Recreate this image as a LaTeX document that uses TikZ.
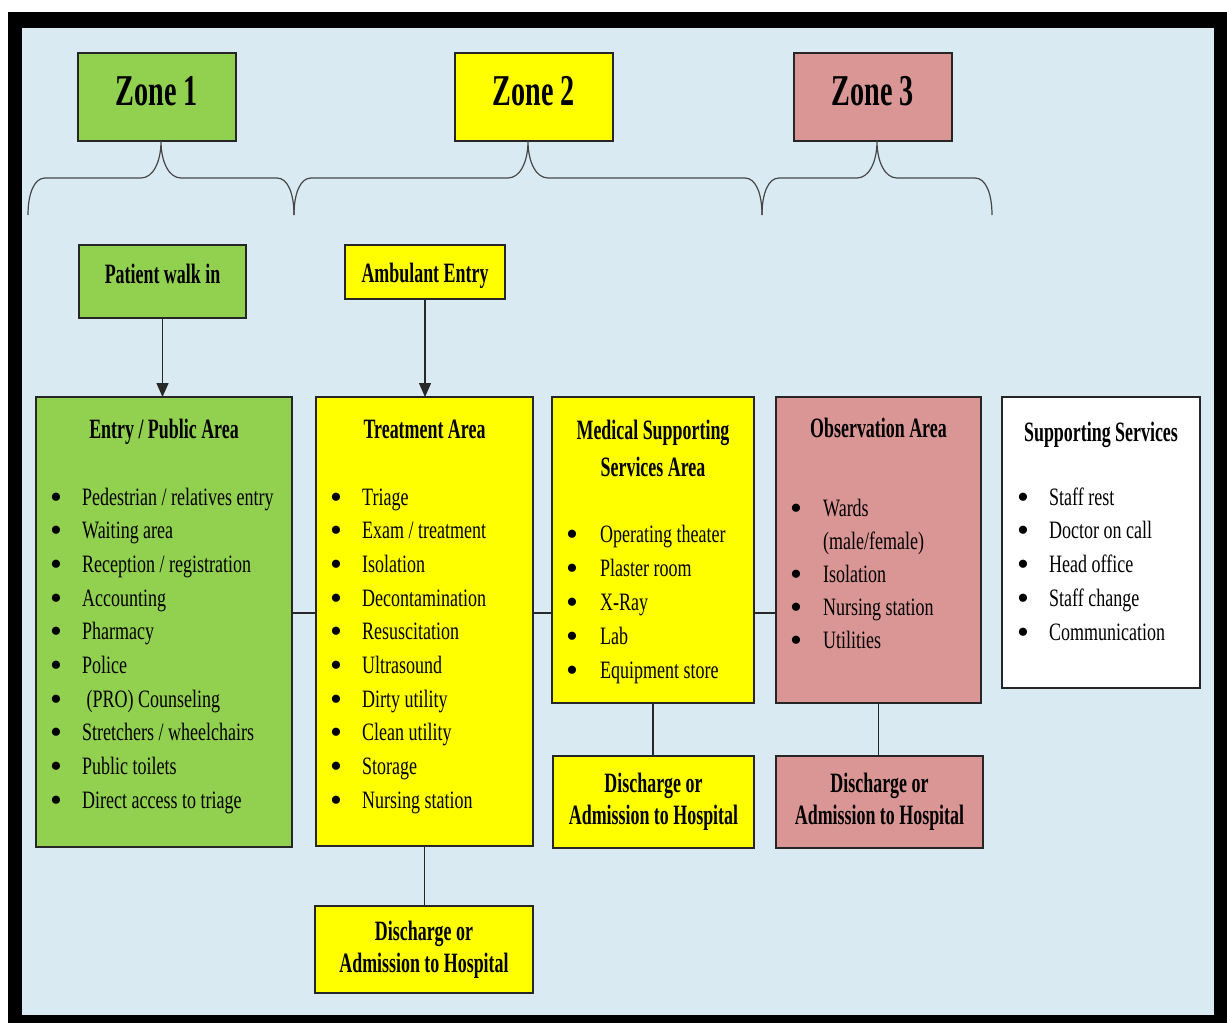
\documentclass[tikz,border=0pt]{standalone}
\usepackage{fontspec}
\newfontfamily\bodyfont{Liberation Serif}[FakeStretch=0.72]
\newfontfamily\headfont{Liberation Serif}[FakeStretch=0.64]
\newfontfamily\dotfont{Liberation Serif}
\newcommand\bul{\raisebox{-3pt}{\dotfont\fontsize{34}{34}\selectfont\textbullet}}
\usetikzlibrary{arrows.meta, positioning, calc}

\begin{document}
\begin{tikzpicture}[x=1pt, y=-1pt,
    box/.style={draw=boxline, line width=1.6pt, inner sep=0pt, outer sep=0pt, anchor=north west},
    zonebox/.style={box, minimum width=158pt, minimum height=88pt, text height=30pt, text depth=14pt,
        font=\headfont\bfseries\fontsize{44}{50}\selectfont},
    entrybox/.style={box, font=\headfont\bfseries\fontsize{28}{32}\selectfont, text height=20pt},
    disbox/.style={box, align=center, font=\headfont\bfseries\fontsize{28}{32}\selectfont},
    head/.style={inner sep=0pt, anchor=base, font=\headfont\bfseries\fontsize{28}{37}\selectfont},
    item/.style={inner sep=0pt, anchor=base west, font=\bodyfont\fontsize{25}{34}\selectfont},
    link/.style={draw=linegray, line width=1.4pt},
    arrow/.style={link, -{Triangle[length=14pt, width=12pt]}},
    curly/.style={draw=bracegray, line width=1.2pt}
]
    % Định nghĩa màu sắc
    \definecolor{bgblue}{RGB}{218, 234, 242}
    \definecolor{zgreen}{RGB}{146, 208, 80}
    \definecolor{zyellow}{RGB}{255, 255, 0}
    \definecolor{zpink}{RGB}{217, 150, 148}
    \definecolor{boxline}{RGB}{38, 38, 38}
    \definecolor{linegray}{RGB}{40, 40, 40}
    \definecolor{bracegray}{RGB}{70, 70, 70}

    \useasboundingbox (0,0) rectangle (1227,1023);

    % 1. Khung đen và nền xanh nhạt
    \fill[black] (8,12) rectangle (1227,1023);
    \fill[bgblue] (21.5,28) rectangle (1214,1015);

    % 2. Ba ô Zone ở trên
    \node[zonebox, fill=zgreen] (zone1) at (78,53) {Zone 1};
    \node[zonebox, fill=zyellow] (zone2) at (455,53) {Zone 2};
    \node[zonebox, fill=zpink] (zone3) at (794,53) {Zone 3};

    % 3. Dấu ngoặc nhọn dưới mỗi zone - đỉnh chạm đáy ô (y = 141)
    \foreach \a/\b in {28/294, 294/762, 762/992} {
        \pgfmathsetmacro\m{(\a+\b)/2}
        \draw[curly] (\a,215) .. controls (\a,194) and (\a+6,178) .. (\a+17,178)
            -- (\m-20,178) .. controls (\m-8,178) and (\m,162) .. (\m,141)
            .. controls (\m,162) and (\m+8,178) .. (\m+20,178)
            -- (\b-17,178) .. controls (\b-6,178) and (\b,194) .. (\b,215);
    }

    % 4. Hai lối vào
    \node[entrybox, fill=zgreen, minimum width=167pt, minimum height=73pt, text depth=17pt] (walkin) at (79,245) {Patient walk in};
    \node[entrybox, fill=zyellow, minimum width=160pt, minimum height=54pt, text depth=0pt] (ambulant) at (345,245) {Ambulant Entry};

    % 5. Các khu vực chính
    \node[box, fill=zgreen, minimum width=256pt, minimum height=450pt] (entry) at (36,397) {};
    \node[box, fill=zyellow, minimum width=217pt, minimum height=449pt] (treat) at (316,397) {};
    \node[box, fill=zyellow, minimum width=202pt, minimum height=306pt] (med) at (552,397) {};
    \node[box, fill=zpink, minimum width=205pt, minimum height=306pt] (obs) at (776,397) {};
    \node[box, fill=white, minimum width=198pt, minimum height=291pt] (support) at (1002,397) {};

    % Tiêu đề các khu vực
    \node[head] (entryhead) at (entry.north |- 0,438) {Entry / Public Area};
    \node[head] (treathead) at (treat.north |- 0,438) {Treatment Area};
    \node[head, anchor=center, align=center] (medhead) at (med.north |- 0,448) {Medical Supporting\\Services Area};
    \node[head] (obshead) at (obs.north |- 0,437) {Observation Area};
    \node[head] (supporthead) at (support.north |- 0,441) {Supporting Services};

    % 6. Danh sách gạch đầu dòng
    \foreach \t [count=\i] in {Pedestrian / relatives entry, Waiting area, Reception / registration,
        Accounting, Pharmacy, Police, {\ (PRO) Counseling}, Stretchers / wheelchairs,
        Public toilets, Direct access to triage}
        \node[item] (ent\i) at (50, 505+33.67*\i-33.67) {\makebox[32pt][l]{\bul}\t};

    \foreach \t [count=\i] in {Triage, Exam / treatment, Isolation, Decontamination, Resuscitation,
        Ultrasound, Dirty utility, Clean utility, Storage, Nursing station}
        \node[item] (tr\i) at (330, 505+33.67*\i-33.67) {\makebox[32pt][l]{\bul}\t};

    \foreach \t [count=\i] in {Operating theater, Plaster room, X-Ray, Lab, Equipment store}
        \node[item] (md\i) at (566, 542+34*\i-34) {\makebox[34pt][l]{\bul}\t};

    \node[item] (ob1) at (790,516) {\makebox[33pt][l]{\bul}Wards};
    \node[item] (ob1b) at (823,549) {(male/female)};
    \node[item] (ob2) at (790,582) {\makebox[33pt][l]{\bul}Isolation};
    \node[item] (ob3) at (790,615) {\makebox[33pt][l]{\bul}Nursing station};
    \node[item] (ob4) at (790,648) {\makebox[33pt][l]{\bul}Utilities};

    \foreach \t [count=\i] in {Staff rest, Doctor on call, Head office, Staff change, Communication}
        \node[item] (sp\i) at (1017, 505+33.75*\i-33.75) {\makebox[32pt][l]{\bul}\t};

    % 7. Ô xuất viện / nhập viện
    \node[disbox, fill=zyellow, minimum width=218pt, minimum height=87pt] (treatdis) at (315,906) {Discharge or\\Admission to Hospital};
    \node[disbox, fill=zyellow, minimum width=201pt, minimum height=92pt] (meddis) at (553,756) {Discharge or\\Admission to Hospital};
    \node[disbox, fill=zpink, minimum width=207pt, minimum height=92pt] (obsdis) at (776,756) {Discharge or\\Admission to Hospital};

    % 8. Mũi tên và đường nối
    \draw[arrow] (walkin.south) -- (walkin.south |- entry.north);
    \draw[arrow] (ambulant.south) -- (ambulant.south |- treat.north);

    % đường ngang nối các khu vực ở y = 613
    \coordinate (hub) at (0,613);
    \draw[link] (entry.east |- hub) -- (treat.west |- hub);
    \draw[link] (treat.east |- hub) -- (med.west |- hub);
    \draw[link] (med.east |- hub) -- (obs.west |- hub);

    \draw[link] (treat.south) -- (treat.south |- treatdis.north);
    \draw[link] (med.south) -- (med.south |- meddis.north);
    \draw[link] (obs.south) -- (obs.south |- obsdis.north);

\end{tikzpicture}
\end{document}
